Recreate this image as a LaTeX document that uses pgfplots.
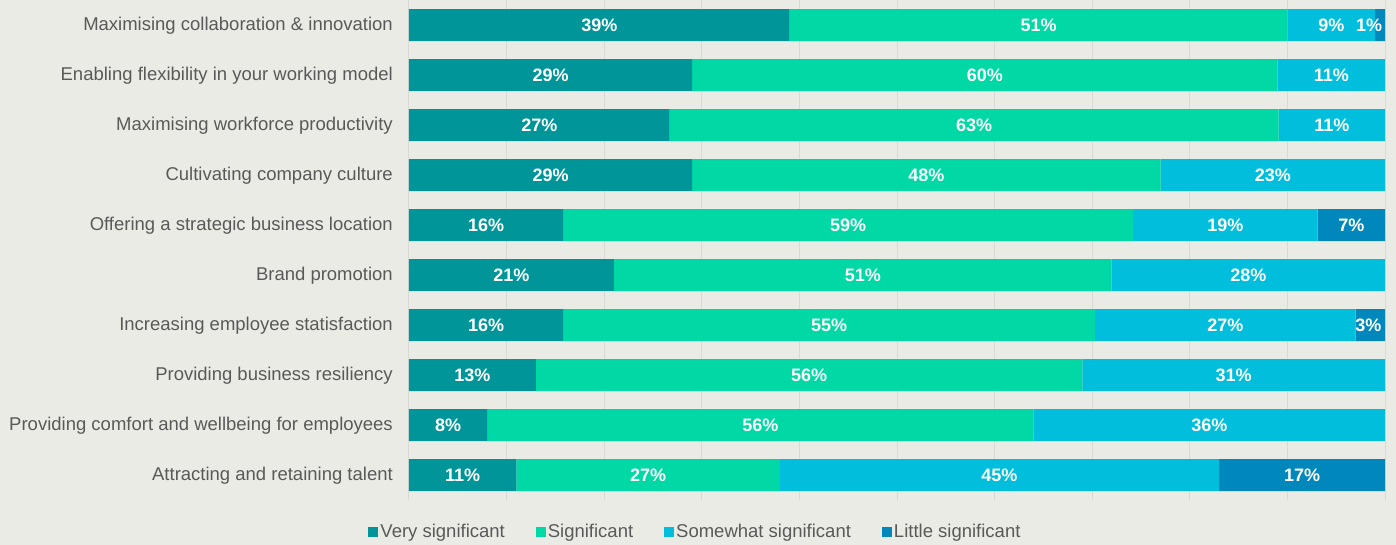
\documentclass[border=0pt]{standalone}
\usepackage{pgfplots}
\pgfplotsset{compat=1.18}
\usepackage{fontspec}
\setmainfont{Liberation Sans}
\usetikzlibrary{backgrounds}
\definecolor{verysig}{RGB}{0,150,153}
\definecolor{sig}{RGB}{0,216,165}
\definecolor{somesig}{RGB}{0,190,220}
\definecolor{littlesig}{RGB}{0,136,188}
\definecolor{bg}{RGB}{235,235,230}
\definecolor{gridc}{RGB}{218,218,213}
\definecolor{txt}{RGB}{89,89,89}
\newcommand{\catfont}{\fontsize{18.5bp}{22bp}\selectfont}
\newcommand{\valfont}{\fontsize{18bp}{22bp}\selectfont\bfseries}
\begin{document}
\begin{tikzpicture}
\begin{axis}[
    name=ax,
    xbar stacked,
    bar width=32bp,
    width=976bp, height=500bp, scale only axis,
    xmin=0, xmax=100,
    ymin=0.5, ymax=10.5,
    y dir=reverse,
    axis line style={draw=none},
    xtick={0,10,...,100}, xticklabels={},
    xmajorgrids, grid style={gridc, line width=1bp},
    major tick length=0pt,
    ytick={1,...,10},
    yticklabels={
        Maximising collaboration \& innovation,
        Enabling flexibility in your working model,
        Maximising workforce productivity,
        Cultivating company culture,
        Offering a strategic business location,
        Brand promotion,
        Increasing employee statisfaction,
        Providing business resiliency,
        Providing comfort and wellbeing for employees,
        Attracting and retaining talent},
    yticklabel style={font=\catfont, text=txt, inner sep=0pt, xshift=-16bp, yshift=-1bp},
    point meta=explicit symbolic,
    nodes near coords={\pgfplotspointmeta},
    every node near coord/.append style={font=\valfont, text=white},
    legend columns=4,
    legend style={at={(0.2935,-0.064)}, anchor=center, draw=none, fill=none,
        font=\catfont, text=txt,
        /tikz/every even column/.append style={column sep=29bp},
        legend cell align=left},
    legend image code/.code={\fill[#1] (0bp,-5bp) rectangle (10bp,5bp);},
]
% rows that add to 101% are drawn at their measured widths
\addplot[fill=verysig, draw=none] coordinates {
    (39,1) [39\%] (29,2) [29\%] (26.7,3) [27\%] (29,4) [29\%] (15.8,5) [16\%]
    (21,6) [21\%] (15.8,7) [16\%] (13,8) [13\%] (8,9) [8\%] (11,10) [11\%]};
\addplot[fill=sig, draw=none] coordinates {
    (51,1) [51\%] (60,2) [60\%] (62.4,3) [63\%] (48,4) [48\%] (58.4,5) [59\%]
    (51,6) [51\%] (54.5,7) [55\%] (56,8) [56\%] (56,9) [56\%] (27,10) [27\%]};
\addplot[fill=somesig, draw=none] coordinates {
    (9,1) [9\%] (11,2) [11\%] (10.9,3) [11\%] (23,4) [23\%] (18.9,5) [19\%]
    (28,6) [28\%] (26.7,7) [27\%] (31,8) [31\%] (36,9) [36\%] (45,10) [45\%]};
\addplot[fill=littlesig, draw=none] coordinates {
    (1,1) [1\%\kern22bp] (0,2) [] (0,3) [] (0,4) [] (6.9,5) [7\%]
    (0,6) [] (3,7) [3\%\kern4bp] (0,8) [] (0,9) [] (17,10) [17\%]};
\legend{Very significant, Significant, Somewhat significant, Little significant}
\end{axis}
\pgfresetboundingbox
\path ([xshift=-409bp,yshift=-45bp]ax.south west) rectangle ([xshift=11bp]ax.north east);
\begin{scope}[on background layer]
\fill[bg] ([xshift=-409bp,yshift=-45bp]ax.south west) rectangle ([xshift=11bp]ax.north east);
\end{scope}
\end{tikzpicture}
\end{document}
